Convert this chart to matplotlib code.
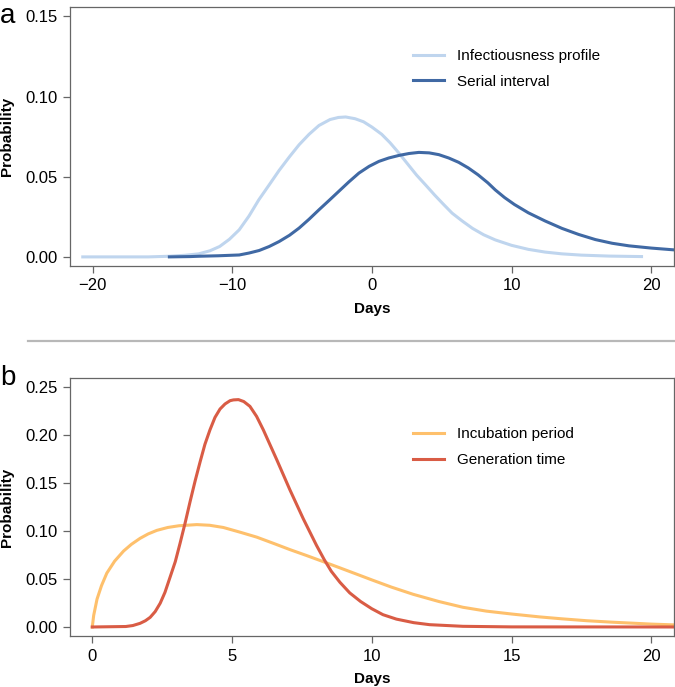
import matplotlib

matplotlib.use("Agg")
import matplotlib.pyplot as plt
from matplotlib.lines import Line2D

plt.rcParams["font.family"] = ["Liberation Sans", "DejaVu Sans"]

# panel a: values
infect_days = [-20.7, -16.0, -14.5, -13.4, -12.4, -11.6, -10.9, -10.2, -9.5, -8.8, -8.1,
               -7.35, -6.64, -5.9, -5.21, -4.5, -3.79, -3.0, -2.4, -1.88, -1.2, -0.6,
               0.0, 0.7, 1.3, 1.93, 2.6, 3.2, 3.83, 4.5, 5.1, 5.74, 6.45, 7.2, 8.0,
               8.83, 10.0, 11.2, 12.4, 13.6, 15.0, 17.0, 19.3]
infect_prob = [0.0, 0.0, 0.0004, 0.001, 0.0019, 0.0038, 0.0065, 0.011, 0.0169, 0.0255,
               0.0356, 0.045, 0.054, 0.0625, 0.070, 0.0765, 0.082, 0.0857, 0.087, 0.0873,
               0.0862, 0.0843, 0.081, 0.0765, 0.0712, 0.0648, 0.0575, 0.051, 0.045, 0.0385,
               0.033, 0.0273, 0.0225, 0.0178, 0.0138, 0.0106, 0.0072, 0.0047, 0.003,
               0.0019, 0.0011, 0.0005, 0.0002]

serial_days = [-14.5, -13.0, -12.4, -11.0, -9.5, -8.8, -8.07, -7.35, -6.64, -5.9, -5.21,
               -4.5, -3.79, -3.07, -2.36, -1.65, -0.93, -0.2, 0.5, 1.2, 1.93, 2.65, 3.36,
               4.1, 4.79, 5.5, 6.21, 6.9, 7.6, 8.3, 8.83, 9.5, 10.2, 11.2, 12.4, 13.6,
               14.8, 16.0, 17.2, 18.4, 20.0, 21.6]
serial_prob = [0.0, 0.0002, 0.0004, 0.0007, 0.0012, 0.0024, 0.004, 0.0065, 0.0096, 0.0135,
               0.018, 0.0235, 0.0294, 0.0352, 0.041, 0.0468, 0.0523, 0.0565, 0.0596,
               0.0617, 0.0633, 0.0645, 0.0652, 0.0649, 0.0638, 0.0617, 0.059, 0.0555,
               0.0512, 0.0462, 0.0418, 0.0370, 0.0327, 0.0275, 0.0224, 0.0178, 0.014,
               0.0108, 0.0085, 0.0069, 0.0055, 0.0044]

# panel b
incub_days = [0.0, 0.05, 0.17, 0.33, 0.52, 0.8, 1.12, 1.4, 1.71, 2.0, 2.31, 2.7, 3.1,
              3.74, 4.2, 4.69, 5.3, 5.88, 6.5, 7.07, 7.65, 8.26, 8.86, 9.5, 10.0, 10.7,
              11.48, 12.4, 13.26, 14.1, 15.0, 16.0, 16.8, 17.7, 18.6, 19.3, 20.0, 20.8]
incub_prob = [0.0, 0.012, 0.029, 0.043, 0.056, 0.0685, 0.079, 0.086, 0.0922, 0.0968,
              0.1005, 0.1035, 0.1053, 0.1065, 0.1058, 0.1035, 0.0985, 0.0935, 0.0868,
              0.0805, 0.0745, 0.068, 0.0615, 0.0545, 0.049, 0.0415, 0.0340, 0.0265,
              0.0205, 0.0165, 0.0135, 0.0105, 0.0085, 0.0065, 0.005, 0.004, 0.003, 0.0022]

gen_days = [0.0, 1.2, 1.45, 1.71, 1.9, 2.07, 2.25, 2.43, 2.6, 2.79, 2.97, 3.14, 3.32,
            3.5, 3.68, 3.86, 4.03, 4.21, 4.39, 4.57, 4.75, 4.93, 5.05, 5.23, 5.42, 5.64,
            5.88, 6.12, 6.6, 7.07, 7.55, 8.02, 8.3, 8.55, 8.86, 9.21, 9.6, 10.0, 10.4,
            10.88, 11.5, 12.07, 13.26, 15.0, 20.8]
gen_prob = [0.0, 0.0005, 0.0015, 0.0038, 0.0065, 0.010, 0.016, 0.0247, 0.036, 0.0524,
            0.068, 0.087, 0.108, 0.1305, 0.152, 0.172, 0.19, 0.205, 0.218, 0.2267, 0.232,
            0.2354, 0.2362, 0.2365, 0.2345, 0.2295, 0.219, 0.205, 0.174, 0.1427, 0.1125,
            0.085, 0.070, 0.058, 0.0465, 0.0355, 0.0265, 0.019, 0.0128, 0.0082, 0.0045,
            0.0024, 0.0007, 0.0001, 0.0]

LIGHT_BLUE = "#bfd5ee"
DARK_BLUE = "#4069a4"
ORANGE = "#fec06c"
RED = "#d95c45"
SPINE = "#666666"


def style_axes(ax):
    for s in ax.spines.values():
        s.set_color(SPINE)
        s.set_linewidth(0.9)
    ax.tick_params(direction="out", length=5, width=0.9, color=SPINE,
                   labelsize=12, pad=4)
    ax.set_ylabel("Probability", fontsize=11, fontweight="bold", labelpad=8)
    ax.set_xlabel("Days", fontsize=11, fontweight="bold", labelpad=6)


fig = plt.figure(figsize=(6.75, 6.87), dpi=100)

ax_a = fig.add_axes([0.104, 0.613, 0.894, 0.377])
ax_a.plot(infect_days, infect_prob, color=LIGHT_BLUE, lw=2.2, label="Infectiousness profile")
ax_a.plot(serial_days, serial_prob, color=DARK_BLUE, lw=2.2, label="Serial interval")
ax_a.set_xlim(-21.6, 21.6)
ax_a.set_ylim(-0.0056, 0.156)
ax_a.set_xticks([-20, -10, 0, 10, 20])
ax_a.set_xticklabels(["\u221220", "\u221210", "0", "10", "20"])
ax_a.set_yticks([0, 0.05, 0.10, 0.15])
ax_a.set_yticklabels(["0.00", "0.05", "0.10", "0.15"])
style_axes(ax_a)
ax_a.legend(loc="upper left", bbox_to_anchor=(0.558, 0.86), frameon=False, fontsize=11,
            handlelength=2.0, handletextpad=0.9, labelspacing=0.75, borderaxespad=0)

ax_b = fig.add_axes([0.104, 0.0742, 0.894, 0.3756])
ax_b.plot(incub_days, incub_prob, color=ORANGE, lw=2.2, label="Incubation period")
ax_b.plot(gen_days, gen_prob, color=RED, lw=2.2, label="Generation time")
ax_b.set_xlim(-0.79, 20.8)
ax_b.set_ylim(-0.0094, 0.259)
ax_b.set_xticks([0, 5, 10, 15, 20])
ax_b.set_yticks([0, 0.05, 0.10, 0.15, 0.20, 0.25])
ax_b.set_yticklabels(["0.00", "0.05", "0.10", "0.15", "0.20", "0.25"])
style_axes(ax_b)
ax_b.legend(loc="upper left", bbox_to_anchor=(0.558, 0.832), frameon=False, fontsize=11,
            handlelength=2.0, handletextpad=0.9, labelspacing=0.75, borderaxespad=0)

# separator between panels
fig.add_artist(Line2D([0.041, 1.0], [0.5036, 0.5036], color="#b8b8b8", lw=1.6))

fig.text(0.0, 0.995, "a", fontsize=20, ha="left", va="top")
fig.text(0.0, 0.468, "b", fontsize=20, ha="left", va="top")

fig.savefig("out.png", dpi=100)
